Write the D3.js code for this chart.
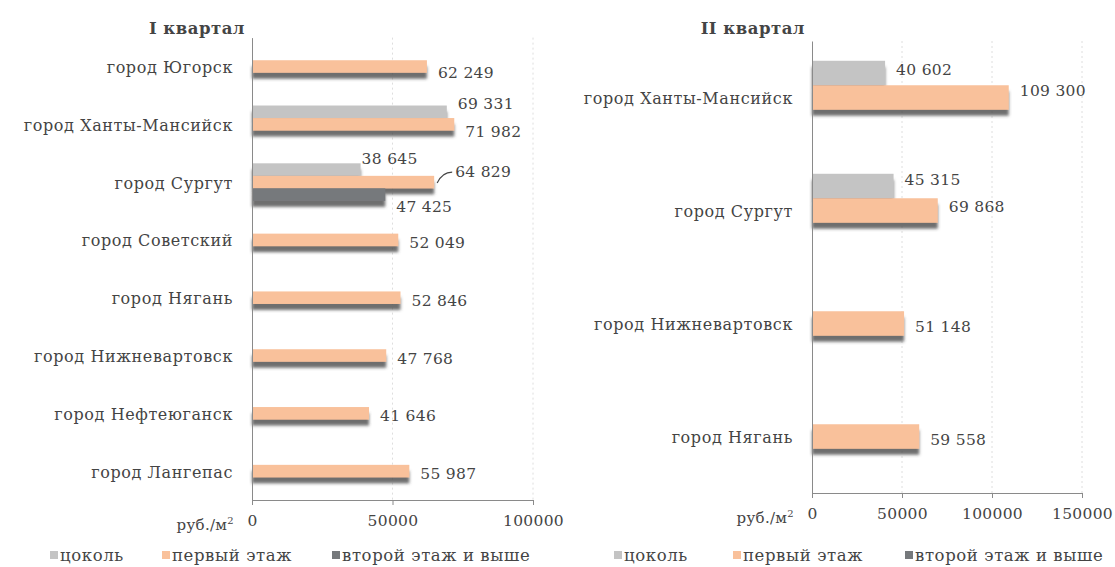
<!DOCTYPE html>
<html>
<head>
<meta charset="utf-8">
<script src="https://cdn.jsdelivr.net/npm/d3@7"></script>
<style>
  body { margin: 0; background: #fff; }
  svg text { font-family: "DejaVu Serif", serif; fill: #444; }
</style>
</head>
<body>
<div id="chart"></div>
<script>
//Chart data: I quarter.
const q1Cities = ["город Югорск", "город Ханты-Мансийск", "город Сургут", "город Советский",
                  "город Нягань", "город Нижневартовск", "город Нефтеюганск", "город Лангепас"];
const q1Cokol  = [null, 69331, 38645, null, null, null, null, null];
const q1First  = [62249, 71982, 64829, 52049, 52846, 47768, 41646, 55987];
const q1Second = [null, null, 47425, null, null, null, null, null];
const q1Ticks  = [0, 50000, 100000];

//Chart data: II quarter.
const q2Cities = ["город Ханты-Мансийск", "город Сургут", "город Нижневартовск", "город Нягань"];
const q2Cokol  = [40602, 45315, null, null];
const q2First  = [109300, 69868, 51148, 59558];
const q2Second = [null, null, null, null];
const q2Ticks  = [0, 50000, 100000, 150000];

const seriesNames  = ["цоколь", "первый этаж", "второй этаж и выше"];
const seriesColors = ["#c4c4c4", "#f9c19b", "#76797c"];

//Label nudges [dx, dy] keyed by panel-city-series, everything else sits right of the bar.
const nudges = {
  "0-0-1": [0, 6], "0-1-0": [0, -8], "0-1-1": [0, 8],
  "0-2-0": [-10, -11], "0-2-1": [10, -10], "0-2-2": [0, 12],
  "1-0-0": [0, -3], "1-0-1": [0, -7], "1-1-0": [0, -6], "1-1-1": [0, -4]
};

const w = 1115, h = 567;
const svg = d3.select("#chart").append("svg")
  .attr("width", w).attr("height", h);

//Soft shadow under the bars.
const filter = svg.append("defs").append("filter")
  .attr("id", "shadow").attr("x", "-5%").attr("y", "-50%")
  .attr("width", "110%").attr("height", "220%");
filter.append("feDropShadow")
  .attr("dx", 0).attr("dy", 6).attr("stdDeviation", 1.6)
  .attr("flood-color", "#4a4a4a").attr("flood-opacity", 0.8);

const spaced = d3.formatLocale({ decimal: ",", thousands: " ", grouping: [3], currency: ["", ""] }).format(",d");

const panels = [
  { title: "I квартал", cities: q1Cities, values: [q1Cokol, q1First, q1Second], ticks: q1Ticks,
    left: 252, right: 533, top: 37.6, bottom: 500, legendX: [50, 162, 332] },
  { title: "II квартал", cities: q2Cities, values: [q2Cokol, q2First, q2Second], ticks: q2Ticks,
    left: 812, right: 1082, top: 41, bottom: 493, legendX: [614, 733, 905] }
];

panels.forEach((p, pi) => {
  const x = d3.scaleLinear()
    .domain([0, d3.max(p.ticks)])
    .range([p.left, p.right]);

  const y = d3.scaleBand()
    .domain(p.cities)
    .range([p.top, p.bottom])
    .paddingInner(0.35)
    .paddingOuter(0.175);

  const ySub = d3.scaleBand()
    .domain([0, 1, 2])
    .range([0, y.bandwidth()]);

  const g = svg.append("g");

  //Dashed vertical gridlines.
  g.selectAll(".grid")
    .data(p.ticks.slice(1))
    .enter()
    .append("line")
    .attr("x1", d => x(d)).attr("x2", d => x(d))
    .attr("y1", p.top).attr("y2", p.bottom)
    .attr("stroke", "#dedede")
    .attr("stroke-dasharray", "2,3");

  //Bars, drawn series by series so the middle one covers the shadow of the top one.
  p.values.forEach((vals, si) => {
    const rows = p.cities.map((c, i) => ({ city: c, i: i, v: vals[i] })).filter(d => d.v !== null);
    g.selectAll(".bar-" + si)
      .data(rows)
      .enter()
      .append("rect")
      .attr("x", x(0))
      .attr("y", d => y(d.city) + ySub(si))
      .attr("width", d => x(d.v) - x(0))
      .attr("height", ySub.bandwidth())
      .attr("fill", seriesColors[si])
      .attr("filter", "url(#shadow)");
  });

  //Value labels.
  p.values.forEach((vals, si) => {
    const rows = p.cities.map((c, i) => ({ city: c, i: i, v: vals[i] })).filter(d => d.v !== null);
    rows.forEach(d => {
      const n = nudges[pi + "-" + d.i + "-" + si] || [0, 3];
      const bx = x(d.v);
      const by = y(d.city) + ySub(si) + ySub.bandwidth() / 2;
      const tx = bx + 11 + n[0];
      const ty = by + n[1];
      g.append("text")
        .attr("x", tx).attr("y", ty)
        .attr("dominant-baseline", "central")
        .style("font-size", "15.5px")
        .style("letter-spacing", "0.3px")
        .text(spaced(d.v));
      if (pi === 0 && d.i === 2 && si === 1) {
        //Leader line for the shifted label.
        g.append("path")
          .attr("d", "M" + (bx + 3) + "," + (by + 1) + " Q" + (bx + 8) + "," + (ty) + " " + (tx - 3) + "," + (ty))
          .attr("fill", "none").attr("stroke", "#444").attr("stroke-width", 1.2);
      }
    });
  });

  //Category axis.
  const yAxis = d3.axisLeft(y).tickSize(0).tickPadding(19);
  const ya = g.append("g")
    .attr("transform", "translate(" + x(0) + ",0)")
    .call(yAxis);
  ya.select(".domain").attr("stroke", "#8a8a8a");
  ya.selectAll("text")
    .attr("dy", "0.4em")
    .style("font-size", "16px")
    .style("letter-spacing", "0.6px")
    .style("font-family", "DejaVu Serif")
    .attr("fill", "#444");

  //Value axis.
  const xAxis = d3.axisBottom(x).tickValues(p.ticks).tickFormat(d3.format("d")).tickSize(5).tickSizeOuter(0).tickPadding(10);
  const xa = g.append("g")
    .attr("transform", "translate(0," + p.bottom + ")")
    .call(xAxis);
  xa.select(".domain").attr("stroke", "#8a8a8a");
  xa.selectAll("line").attr("stroke", "#8a8a8a");
  xa.selectAll("text")
    .style("font-size", "15.5px")
    .style("letter-spacing", "0.3px")
    .style("font-family", "DejaVu Serif")
    .attr("fill", "#444");

  //Unit label.
  const unit = g.append("text")
    .attr("x", x(0) - 18).attr("y", p.bottom + 30)
    .attr("text-anchor", "end")
    .style("font-size", "15px")
    .style("letter-spacing", "0.3px");
  unit.append("tspan").text("руб./м");
  unit.append("tspan").attr("dy", -6).style("font-size", "10px").text("2");

  //Panel title.
  g.append("text")
    .attr("x", x(0) - 7).attr("y", 34)
    .attr("text-anchor", "end")
    .style("font-size", "16.5px")
    .style("letter-spacing", "0.5px")
    .style("font-weight", "bold")
    .attr("fill", "#333")
    .text(p.title);

  //Legend.
  seriesNames.forEach((name, si) => {
    const lx = p.legendX[si];
    g.append("rect")
      .attr("x", lx).attr("y", 551)
      .attr("width", 8).attr("height", 8)
      .attr("fill", seriesColors[si]);
    g.append("text")
      .attr("x", lx + 10).attr("y", 561)
      .style("font-size", "16.5px")
      .style("letter-spacing", "0.6px")
      .text(name);
  });
});
</script>
</body>
</html>
